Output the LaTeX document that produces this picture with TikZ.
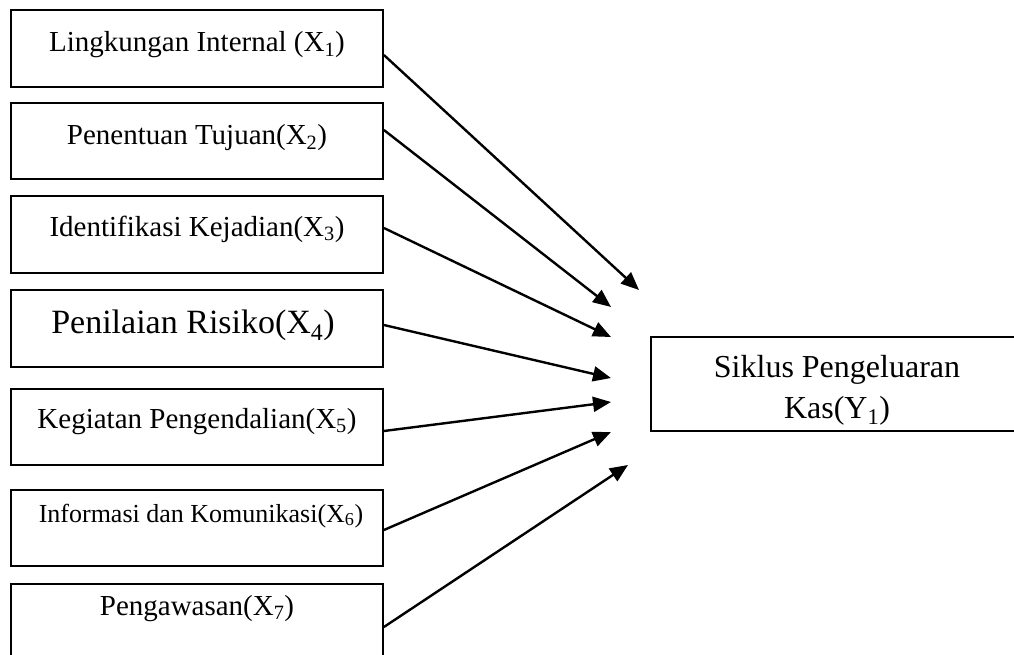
\documentclass[tikz,border=0pt]{standalone}
\usepackage{fontspec}
\setmainfont{Liberation Serif}
\usetikzlibrary{arrows.meta}
\newcommand{\idx}[1]{\textsubscript{#1}}

\begin{document}
\begin{tikzpicture}[x=1pt,y=-1pt,
 box/.style={draw,line width=1.8pt,minimum width=372pt,minimum height=76.5pt,inner sep=0pt},
 link/.style={-{Triangle[length=18pt,width=15pt]},line width=2.4pt},
 lab/.style={anchor=base,inner sep=0pt,font=\fontsize{29}{34}\selectfont}]
\useasboundingbox (0,0) rectangle (1014,655);
\clip (0,0) rectangle (1014,655);
% left column
\foreach \i/\yc in {1/48.5,2/141,3/234.5,4/328.5,5/427,6/528,7/622.5}{
  \node[box] (b\i) at (197,\yc) {};
}
\node[lab] (t1) at (197,52) {Lingkungan Internal (X\idx{1})};
\node[lab] (t2) at (197,145) {Penentuan Tujuan(X\idx{2})};
\node[lab] (t3) at (197,236) {Identifikasi Kejadian(X\idx{3})};
\node[lab,font=\fontsize{34}{40}\selectfont] (t4) at (193,333) {Penilaian Risiko(X\idx{4})};
\node[lab] (t5) at (197,428) {Kegiatan Pengendalian(X\idx{5})};
\node[lab,font=\fontsize{26}{31}\selectfont] (t6) at (201,522) {Informasi dan Komunikasi(X\idx{6})};
\node[lab] (t7) at (197,615) {Pengawasan(X\idx{7})};
% target
\node[box,minimum height=94pt] (y1) at (837,384) {};
\node[lab,font=\fontsize{32}{38}\selectfont] (ya) at (837,377) {Siklus Pengeluaran};
\node[lab,font=\fontsize{32}{38}\selectfont] (yb) at (837,418) {Kas(Y\idx{1})};
% arrows
\foreach \i/\dy/\ex/\ey in {1/-6.5/639/290,2/11/611/307,3/6.5/611/337,4/3.5/611/378,
  5/-4/611/402,6/-2/611/432,7/-4.5/628/465}{
  \coordinate (e\i) at (\ex,\ey);
  \draw[link] ([yshift=\dy pt]b\i.east) -- (e\i);
}
\end{tikzpicture}
\end{document}
